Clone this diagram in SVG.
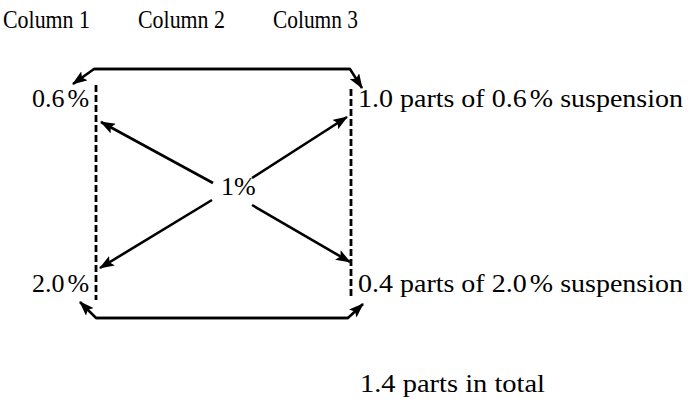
<svg xmlns="http://www.w3.org/2000/svg" width="688" height="402" viewBox="0 0 688 402">
<defs>
<style>
text{font-family:"Liberation Serif","Times New Roman",serif;font-size:26px;fill:#000}
.hd{font-size:25px}
.ln{fill:none;stroke:#000;stroke-width:2.6}
.dash{fill:none;stroke:#000;stroke-width:2.8;stroke-dasharray:7,3}
</style>
<marker id="ah" viewBox="0 0 15 11" refX="14" refY="5.5" markerWidth="15" markerHeight="11" markerUnits="userSpaceOnUse" orient="auto">
<path d="M0,0 L15,5.5 L0,11 L3,5.5 Z" fill="#000"/>
</marker>
</defs>
<rect width="688" height="402" fill="#fff"/>
<g id="headers">
<text class="hd" x="3" y="28" textLength="87" lengthAdjust="spacingAndGlyphs">Column 1</text>
<text class="hd" x="138" y="28" textLength="87" lengthAdjust="spacingAndGlyphs">Column 2</text>
<text class="hd" x="273" y="28" textLength="85" lengthAdjust="spacingAndGlyphs">Column 3</text>
</g>
<g id="n-06"><text x="32" y="107">0.6<tspan dx="3">%</tspan></text></g>
<g id="n-20"><text x="32" y="292">2.0<tspan dx="3">%</tspan></text></g>
<g id="n-1"><text x="221" y="195">1%</text></g>
<g id="n-top"><text x="358" y="107" textLength="325" lengthAdjust="spacingAndGlyphs">1.0 parts of 0.6<tspan dx="3">%</tspan> suspension</text></g>
<g id="n-bot"><text x="358" y="292" textLength="325" lengthAdjust="spacingAndGlyphs">0.4 parts of 2.0<tspan dx="3">%</tspan> suspension</text></g>
<g id="n-total"><text x="360" y="392" textLength="185" lengthAdjust="spacingAndGlyphs">1.4 parts in total</text></g>
<g id="connectors">
<line class="dash" x1="96" y1="85" x2="96" y2="300"/>
<line class="dash" x1="351" y1="89" x2="351" y2="296"/>
<path class="ln" d="M213,183 L101,122" marker-end="url(#ah)"/>
<path class="ln" d="M252,178 L347,117" marker-end="url(#ah)"/>
<path class="ln" d="M212,200 L100,268" marker-end="url(#ah)"/>
<path class="ln" d="M252,205 L350,262" marker-end="url(#ah)"/>
<path class="ln" d="M350,69 L94,69 L73,84" marker-end="url(#ah)"/>
<path class="ln" d="M94,69 L350,69 L362,88" marker-end="url(#ah)"/>
<path class="ln" d="M348,318 L96,318 L80,302" marker-end="url(#ah)"/>
<path class="ln" d="M96,318 L348,318 L363,304" marker-end="url(#ah)"/>
</g>
</svg>
